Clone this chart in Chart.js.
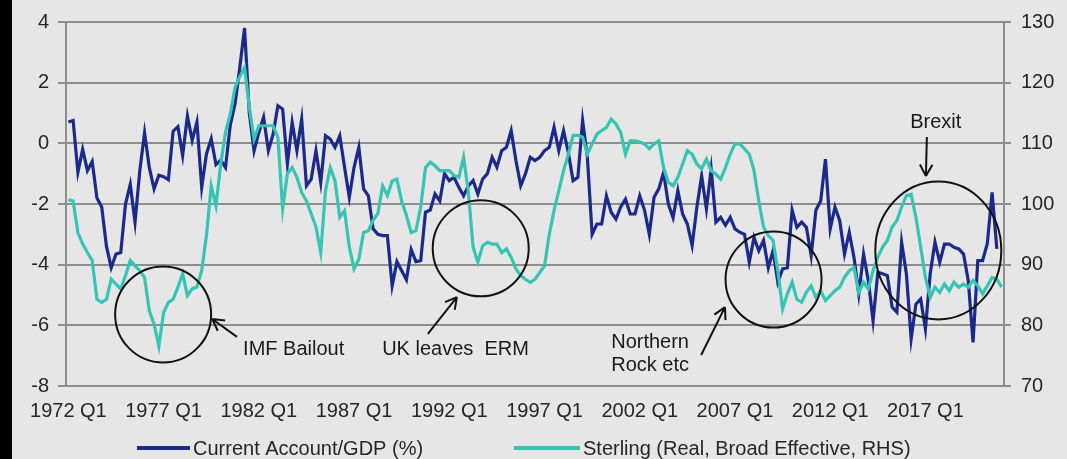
<!DOCTYPE html>
<html>
<head>
<meta charset="utf-8">
<script src="https://cdn.jsdelivr.net/npm/chart.js@4.4.1/dist/chart.umd.min.js"></script>
<style>
  html, body { margin: 0; padding: 0; background: #e6e6e6; }
  #wrap { position: relative; width: 1067px; height: 459px; overflow: hidden; }
  #edge { position: absolute; left: 0; top: 0; width: 12px; height: 459px; background: #000; }
</style>
</head>
<body>
<div id="wrap">
  <canvas id="myChart" width="1067" height="459"></canvas>
  <div id="edge"></div>
</div>
<script>
// quarterly data, 1972 Q1 onwards
const firstYear = 1972;

const currentAccount = [
  0.7, 0.75, -0.95, -0.2, -0.9, -0.6, -1.8, -2.1, -3.4, -4.1,
  -3.65, -3.6, -2.0, -1.35, -2.6, -0.9, 0.35, -0.8, -1.5, -1.05,
  -1.1, -1.2, 0.4, 0.55, -0.4, 0.9, 0.1, 0.7, -1.45, -0.35,
  0.15, -0.7, -0.55, -0.8, 0.6, 1.3, 2.5, 3.8, 1.0, -0.25,
  0.36, 0.86, -0.24, 0.3, 1.24, 1.13, -0.68, 0.69, -0.24, 0.8,
  -1.4, -1.18, -0.24, -1.29, 0.25, 0.14, -0.13, 0.25, -0.79, -1.78,
  -0.79, -0.13, -1.5, -1.73, -2.82, -3.0, -3.04, -3.04, -4.7, -3.9,
  -4.2, -4.5, -3.5, -3.9, -3.87, -2.27, -2.2, -1.67, -1.9, -1.0,
  -1.23, -1.12, -1.45, -1.73, -1.4, -1.23, -1.67, -1.18, -1.0, -0.46,
  -0.79, -0.24, -0.13, 0.42, -0.57, -1.4, -1.0, -0.46, -0.57, -0.46,
  -0.24, -0.13, 0.53, -0.24, 0.42, -0.3, -1.23, -1.12, 0.75, -0.46,
  -3.0, -2.66, -2.66, -1.73, -2.27, -2.5, -2.1, -1.84, -2.33, -2.33,
  -1.73, -2.2, -3.0, -1.78, -1.5, -0.96, -2.0, -2.45, -1.56, -2.33,
  -2.66, -3.37, -2.1, -1.07, -2.16, -0.85, -2.6, -2.44, -2.7, -2.44,
  -2.82, -2.93, -3.0, -3.92, -3.1, -3.54, -3.2, -4.1, -3.54, -4.58,
  -4.14, -4.1, -2.2, -2.77, -2.6, -2.77, -3.7, -2.2, -1.9, -0.52,
  -2.82, -2.1, -2.55, -3.65, -2.93, -3.76, -4.97, -3.65, -4.53, -5.85,
  -4.25, -4.3, -4.36, -5.4, -5.57, -3.26, -4.3, -6.45, -5.3, -5.13,
  -6.12, -4.3, -3.26, -3.92, -3.32, -3.32, -3.43, -3.48, -3.65, -4.53,
  -6.56, -3.87, -3.87, -3.3, -1.62, -3.48, null
];

const sterling = [
  100.7, 100.5, 95.3, 93.4, 92.0, 90.7, 84.3, 83.8, 84.3, 87.6,
  86.8, 86.0, 88.2, 90.7, 89.8, 89.0, 87.9, 82.4, 80.2, 76.6,
  82.1, 83.8, 84.3, 86.3, 88.5, 84.9, 86.0, 86.3, 89.0, 94.8,
  103.0, 99.7, 106.6, 111.8, 114.8, 119.2, 121.0, 122.5, 116.0, 110.7,
  112.9, 112.9, 112.9, 112.9, 111.0, 99.2, 105.0, 106.0, 104.4, 101.9,
  100.5, 98.4, 96.2, 92.0, 102.2, 106.0, 103.8, 97.8, 98.9, 92.9,
  89.3, 90.9, 95.3, 95.6, 97.3, 98.4, 103.0, 101.4, 103.8, 104.1,
  100.5, 98.1, 95.3, 95.6, 99.5, 106.0, 106.9, 106.3, 105.5, 105.5,
  105.5, 104.7, 104.4, 107.7, 102.0, 92.9, 90.4, 93.1, 93.7, 93.4,
  93.4, 92.0, 92.6, 91.2, 89.3, 88.2, 87.6, 87.1, 87.6, 88.7,
  89.8, 95.0, 98.9, 102.2, 105.5, 108.2, 111.3, 111.3, 111.0, 108.2,
  109.9, 111.5, 112.1, 112.6, 114.0, 113.2, 111.8, 108.2, 110.4, 110.4,
  110.2, 109.9, 109.1, 109.9, 110.4, 106.0, 103.6, 103.0, 104.4, 106.6,
  108.8, 108.2, 106.6, 105.8, 107.4, 105.5, 104.9, 104.1, 106.0, 108.2,
  109.9, 109.9, 109.1, 108.2, 105.5, 100.5, 96.2, 94.8, 94.0, 89.0,
  82.7, 85.2, 87.1, 84.3, 83.8, 85.5, 86.5, 84.6, 85.7, 84.1,
  84.9, 85.7, 86.3, 87.9, 89.0, 89.5, 85.4, 87.1, 86.0, 89.0,
  91.2, 92.9, 94.0, 96.2, 97.3, 99.5, 101.4, 101.6, 97.8, 92.9,
  87.9, 84.6, 86.3, 85.4, 86.8, 85.7, 87.1, 86.3, 86.8, 86.3,
  87.4, 86.5, 85.2, 86.5, 87.9, 87.6, 86.3
];

const tickLabels = ["1972 Q1", "1977 Q1", "1982 Q1", "1987 Q1", "1992 Q1",
                    "1997 Q1", "2002 Q1", "2007 Q1", "2012 Q1", "2017 Q1"];

const quarters = [];
for (let k = 0; k < sterling.length; k++) {
  quarters.push((firstYear + Math.floor(k / 4)) + " Q" + (k % 4 + 1));
}

const FONT = '"Liberation Sans", Arial, sans-serif';
const TEXT = "#262626";
const GRID = "#8e8e8e";
const NAVY = "#1b2a88";
const TEAL = "#36c4b4";

// annotations, placed in data units (quarter index, left-axis value)
const circles = [
  { x: 19.9, y: -5.64, rx: 48, ry: 48 },
  { x: 86.6, y: -3.46, rx: 48, ry: 48 },
  { x: 148.1, y: -4.49, rx: 48, ry: 48 },
  { x: 182.7, y: -3.53, rx: 63, ry: 69 }
];
const arrows = [
  { from: [35.4, -6.38], to: [30.2, -5.79] },
  { from: [75.5, -6.28], to: [81.6, -5.07] },
  { from: [132.9, -6.98], to: [137.9, -5.40] },
  { from: [180.3, 0.21], to: [180.1, -1.08] }
];
const notes = [
  { text: "IMF Bailout", x: 36.7, y: -6.78 },
  { text: "UK leaves  ERM", x: 65.9, y: -6.78 },
  { text: "Northern", x: 114.0, y: -6.55 },
  { text: "Rock etc", x: 114.0, y: -7.34 },
  { text: "Brexit", x: 176.8, y: 0.70 }
];

const notesPlugin = {
  id: "notes",
  afterDraw(chart) {
    const ctx = chart.ctx;
    const xs = chart.scales.x, ys = chart.scales.y;
    ctx.save();
    ctx.strokeStyle = "#111";
    ctx.lineWidth = 2;
    circles.forEach(c => {
      ctx.beginPath();
      ctx.ellipse(xs.getPixelForValue(c.x), ys.getPixelForValue(c.y), c.rx, c.ry, 0, 0, Math.PI * 2);
      ctx.stroke();
    });
    arrows.forEach(a => {
      const x1 = xs.getPixelForValue(a.from[0]), y1 = ys.getPixelForValue(a.from[1]);
      const x2 = xs.getPixelForValue(a.to[0]), y2 = ys.getPixelForValue(a.to[1]);
      const ang = Math.atan2(y2 - y1, x2 - x1);
      ctx.beginPath();
      ctx.moveTo(x1, y1);
      ctx.lineTo(x2, y2);
      [0.5, -0.5].forEach(d => {
        ctx.moveTo(x2, y2);
        ctx.lineTo(x2 - 13 * Math.cos(ang + d), y2 - 13 * Math.sin(ang + d));
      });
      ctx.stroke();
    });
    ctx.fillStyle = "#1a1a1a";
    ctx.font = "20px " + FONT;
    ctx.textBaseline = "middle";
    ctx.textAlign = "left";
    notes.forEach(n => {
      ctx.fillText(n.text, xs.getPixelForValue(n.x), ys.getPixelForValue(n.y));
    });

    // legend
    const ly = 448;
    chart.data.datasets.forEach((ds, k) => {
      const x0 = k === 0 ? 137 : 514;
      const len = k === 0 ? 53 : 66;
      ctx.strokeStyle = ds.borderColor;
      ctx.lineWidth = 4;
      ctx.beginPath();
      ctx.moveTo(x0, ly);
      ctx.lineTo(x0 + len, ly);
      ctx.stroke();
      ctx.fillStyle = TEXT;
      ctx.fillText(ds.label, x0 + len + 3, ly + 1);
    });
    ctx.restore();
  }
};

Chart.defaults.font.family = FONT;
Chart.defaults.font.size = 20;
Chart.defaults.color = TEXT;

new Chart(document.getElementById("myChart"), {
  type: "line",
  data: {
    labels: quarters,
    datasets: [
      {
        label: "Current Account/GDP (%)",
        data: currentAccount,
        borderColor: NAVY,
        backgroundColor: NAVY,
        borderWidth: 3.2,
        pointRadius: 0,
        tension: 0,
        yAxisID: "y",
        order: 2
      },
      {
        label: "Sterling (Real, Broad Effective, RHS)",
        data: sterling,
        borderColor: TEAL,
        backgroundColor: TEAL,
        borderWidth: 3.2,
        pointRadius: 0,
        tension: 0,
        yAxisID: "y1",
        order: 1
      }
    ]
  },
  options: {
    responsive: false,
    animation: false,
    devicePixelRatio: 1,
    layout: { padding: { top: 22, left: 0, right: 0, bottom: 0 } },
    plugins: {
      legend: { display: false },
      tooltip: { enabled: false }
    },
    scales: {
      x: {
        type: "category",
        offset: true,
        grid: { display: false, drawTicks: false },
        border: { display: true, color: GRID, width: 2 },
        ticks: {
          autoSkip: false,
          maxRotation: 0,
          padding: 13,
          callback: function (value) {
            const lab = this.getLabelForValue(value);
            return tickLabels.includes(lab) ? lab : null;
          }
        },
        afterFit: s => { s.height = 73; }
      },
      y: {
        position: "left",
        min: -8,
        max: 4,
        ticks: { stepSize: 2, padding: 9 },
        grid: { color: GRID, lineWidth: 2, tickLength: 8 },
        border: { display: true, color: GRID, width: 2 },
        afterFit: s => { s.width = 66; }
      },
      y1: {
        position: "right",
        min: 70,
        max: 130,
        ticks: { stepSize: 10, padding: 10 },
        grid: { drawOnChartArea: false, color: GRID, lineWidth: 2, tickLength: 7 },
        border: { display: true, color: GRID, width: 2 },
        afterFit: s => { s.width = 63; }
      }
    }
  },
  plugins: [notesPlugin]
});
</script>
</body>
</html>
